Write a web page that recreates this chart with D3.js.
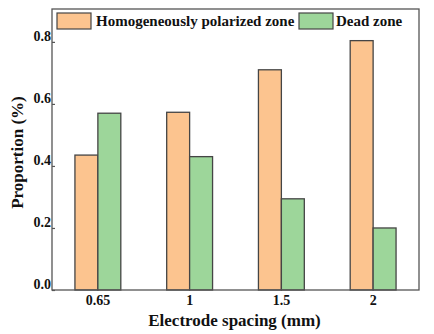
<!DOCTYPE html>
<html><head><meta charset="utf-8">
<script src="https://cdn.jsdelivr.net/npm/d3@7"></script>
<style>body{margin:0;background:#fff}svg{display:block}text{font-family:"Liberation Serif","Times New Roman",serif;font-weight:bold;fill:#111}</style>
</head><body>
<svg id="c" width="434" height="334"></svg>
<script>
const categories = ["0.65", "1", "1.5", "2"];
const seriesNames = ["Homogeneously polarized zone", "Dead zone"];
const homogeneous = [0.435, 0.573, 0.710, 0.804];
const dead = [0.570, 0.430, 0.294, 0.200];
const yTicks = [0.0, 0.2, 0.4, 0.6, 0.8];
const colors = ["#FCC48F", "#9DD69A"];

const svg = d3.select("#c");
const L = 52, R = 419, T = 9, B = 290;
const x = d3.scaleBand().domain(categories).range([L, R]).paddingInner(0.5).paddingOuter(0.25);
const y = d3.scaleLinear().domain([0, 0.906]).range([B, T]);
const series = [homogeneous, dead];

// bars
series.forEach((vals, si) => {
  svg.append("g").selectAll("rect").data(categories).join("rect")
    .attr("x", d => x(d) + si * x.bandwidth() / 2)
    .attr("y", (d, i) => y(vals[i]))
    .attr("width", x.bandwidth() / 2)
    .attr("height", (d, i) => y(0) - y(vals[i]))
    .attr("fill", colors[si])
    .attr("stroke", "#454545")
    .attr("stroke-width", 1.3);
});

// frame
svg.append("rect").attr("x", L).attr("y", T).attr("width", R - L).attr("height", B - T)
  .attr("fill", "none").attr("stroke", "#555").attr("stroke-width", 1.3);

// y axis
const yAxis = svg.append("g").attr("transform", `translate(${L},0)`)
  .call(d3.axisRight(y).tickValues(yTicks).tickSize(3).tickFormat(d3.format(".1f")));
yAxis.select(".domain").remove();
yAxis.selectAll("line").attr("stroke", "#555").attr("stroke-width", 1.2);
yAxis.selectAll("text").attr("x", -1).attr("dy", "-0.1em").attr("text-anchor", "end")
  .style("font-size", "14px");

// x axis
const xAxis = svg.append("g").attr("transform", `translate(0,${B})`)
  .call(d3.axisBottom(x).tickSize(0));
xAxis.select(".domain").remove();
xAxis.selectAll("text").attr("y", 15).attr("dy", 0).style("font-size", "14px");

// titles
svg.append("text").attr("x", (L + R) / 2 - 1).attr("y", 326).attr("text-anchor", "middle")
  .style("font-size", "17px").text("Electrode spacing (mm)");
svg.append("text").attr("transform", `translate(23,${(T + B) / 2 + 3}) rotate(-90)`)
  .attr("text-anchor", "middle").style("font-size", "17px").text("Proportion (%)");

// legend
const leg = [{x: 57, tx: 96}, {x: 299, tx: 336}];
leg.forEach((p, i) => {
  svg.append("rect").attr("x", p.x).attr("y", 13).attr("width", 34).attr("height", 16)
    .attr("fill", colors[i]).attr("stroke", "#454545").attr("stroke-width", 1.2);
  svg.append("text").attr("x", p.tx).attr("y", 26).style("font-size", "15px").text(seriesNames[i]);
});
</script>
</body></html>
